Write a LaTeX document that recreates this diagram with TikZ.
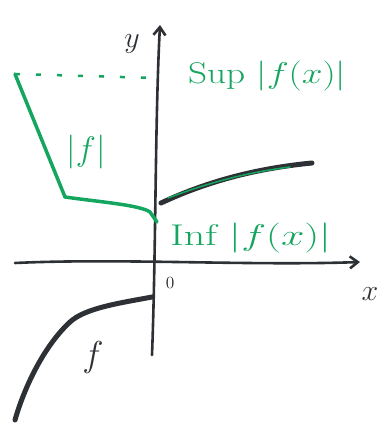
\RequirePackage{fix-cm}
\documentclass[tikz,border=0pt]{standalone}
\usetikzlibrary{arrows.meta}
\definecolor{pen}{RGB}{45,48,52}
\definecolor{mk}{RGB}{20,165,95}
\tikzset{
  axisline/.style={draw=pen, line width=2.6pt, line cap=round, line join=round},
  fcurve/.style={draw=pen, line width=5pt, line cap=round, line join=round},
  abscurve/.style={draw=mk, line width=3.5pt, line cap=round, line join=round},
  lbl/.style={inner sep=0pt, font=\fontsize{30}{34}\selectfont},
  glbl/.style={lbl, text=mk},
}
\begin{document}
\begin{tikzpicture}[x=1pt,y=-1pt]
\useasboundingbox (0,0) rectangle (387,426);
% axes
\coordinate (xl) at (15,263);
\coordinate (xr) at (360,262);
\coordinate (yb) at (152,355);
\coordinate (yt) at (160,25);
\draw[axisline,-{Straight Barb[length=8pt,width=12pt]}] (xl) .. controls (120,258) and (250,266) .. (xr);
\draw[axisline,-{Straight Barb[length=8pt,width=12pt]}] (yb) .. controls (156,250) and (155,120) .. (yt);
\node[lbl, text=pen] (ylab) at (132,44) {$y$};
\node[lbl, text=pen] (xlab) at (370,294) {$x$};
\node[inner sep=0pt, text=pen] (olab) at (170,283) {\scalebox{1.7}{0}};
% f right part
\coordinate (fr0) at (161,203);
\coordinate (fr1) at (312,163);
\draw[fcurve] (fr0) .. controls (210,180) and (260,168) .. (fr1);
\draw[draw=mk, line width=1.5pt, line cap=round] (168,198) .. controls (210,182) and (250,172) .. (290,167);
% f left part
\coordinate (fl0) at (152,297);
\coordinate (fl1) at (15,420);
\draw[fcurve] (fl0) .. controls (120,303) and (85,308) .. (70,322) .. controls (45,345) and (25,385) .. (fl1);
\node[lbl, text=pen, font=\fontsize{36}{40}\selectfont] (flab) at (93,357) {$f$};
% |f| left part
\coordinate (a0) at (15,74);
\coordinate (a1) at (65,197);
\coordinate (a2) at (157,222);
\draw[abscurve] (a0) -- (a1) .. controls (100,202) and (140,205) .. (150,212) -- (a2);
\coordinate (ysup) at (157,78);
\draw[draw=mk, line width=2.5pt, dash pattern=on 5pt off 16pt] (a0) -- (ysup);
\node[glbl, font=\fontsize{34}{38}\selectfont] (abslab) at (86,152) {$|f|$};
\node[glbl, anchor=west] (suplab) at (188,76) {\scalebox{1.24}[1]{Sup $|f(x)|$}};
\node[glbl, anchor=west] (inflab) at (170,238) {\scalebox{1.4}[1]{Inf $|f(x)|$}};
\end{tikzpicture}
\end{document}
